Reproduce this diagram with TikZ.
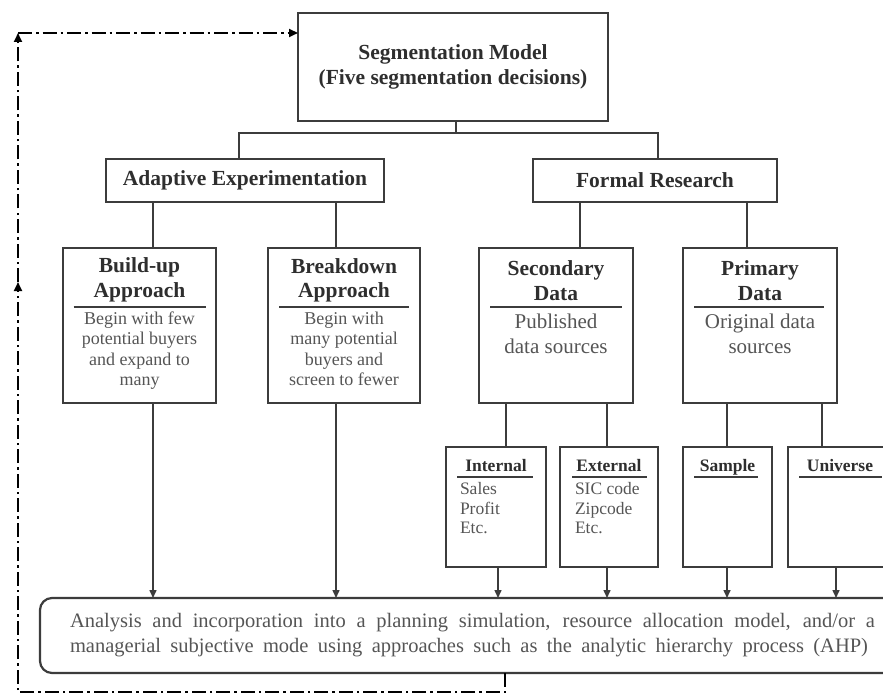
\documentclass[tikz,border=0pt]{standalone}
\usepackage{fontspec}
\setmainfont{Liberation Serif}
\usetikzlibrary{arrows.meta,calc}
\definecolor{ln}{HTML}{3C3C3C}
\definecolor{tt}{HTML}{2E2E2E}
\definecolor{bt}{HTML}{555555}
\begin{document}
\begin{tikzpicture}[x=1pt,y=-1pt,
  box/.style={draw=ln,line width=1.8pt,inner sep=0pt,outer sep=0pt,anchor=north west},
  conn/.style={draw=ln,line width=1.5pt},
  arr/.style={conn,-{Triangle[length=8pt,width=7pt]}},
  sepline/.style={draw=ln,line width=1.5pt},
  fb/.style={draw=black,line width=2.2pt,dash pattern=on 14pt off 4pt on 2.5pt off 4pt},
  fbarr/.style={fb,-{Triangle[length=9pt,width=8pt]}}]
\clip (0,0) rectangle (883,695);
\fill[white] (0,0) rectangle (883,695);

% top level
\node[box] (seg) at (298,13) {\parbox[c][108pt][c]{310pt}{\centering\color{tt}\fontsize{21.5}{25}\selectfont\bfseries Segmentation Model\\(Five segmentation decisions)}};
\node[box] (adapt) at (106,159) {\parbox[c][43pt][c]{278pt}{\centering\color{tt}\fontsize{21.5}{25}\selectfont\bfseries Adaptive Experimentation}};
\node[box] (formal) at (533,159) {\parbox[c][43pt][c]{244pt}{\centering\color{tt}\fontsize{21.5}{25}\selectfont\bfseries Formal Research}};

% second level
\node[box] (build) at (63,248) {\parbox[c][155pt][t]{153pt}{\centering\vspace*{9.5pt}%
{\color{tt}\fontsize{21.5}{25.5}\selectfont\bfseries Build-up\\Approach\par}\vspace{5.5pt}%
{\color{bt}\fontsize{18}{20.6}\selectfont Begin with few\\potential buyers\\and expand to\\many\par}}};
\node[box] (brk) at (268,248) {\parbox[c][155pt][t]{152pt}{\centering\vspace*{10.5pt}%
{\color{tt}\fontsize{21.5}{24.5}\selectfont\bfseries Breakdown\\Approach\par}\vspace{5.5pt}%
{\color{bt}\fontsize{18}{20.6}\selectfont Begin with\\many potential\\buyers and\\screen to fewer\par}}};
\node[box] (sec) at (479,248) {\parbox[c][155pt][t]{154pt}{\centering\vspace*{13pt}%
{\color{tt}\fontsize{21.5}{24.5}\selectfont\bfseries Secondary\\Data\par}\vspace{3pt}%
{\color{bt}\fontsize{21}{25}\selectfont Published\\data sources\par}}};
\node[box] (prim) at (683,248) {\parbox[c][155pt][t]{154pt}{\centering\vspace*{13pt}%
{\color{tt}\fontsize{21.5}{24.5}\selectfont\bfseries Primary\\Data\par}\vspace{3pt}%
{\color{bt}\fontsize{21}{25}\selectfont Original data\\sources\par}}};

\draw[sepline] ($(build.north)+(-66,59)$) -- ++(132,0);
\draw[sepline] ($(brk.north)+(-65,59)$) -- ++(130,0);
\draw[sepline] ($(sec.north)+(-66,59)$) -- ++(132,0);
\draw[sepline] ($(prim.north)+(-66,59)$) -- ++(130,0);

% third level
\node[box] (int) at (446,447) {\parbox[c][120pt][t]{100pt}{\vspace*{12.5pt}%
{\centering\color{tt}\fontsize{17.5}{20}\selectfont\bfseries Internal\par}\vspace{3.5pt}%
{\raggedright\leftskip=14pt\color{bt}\fontsize{17.5}{19.5}\selectfont Sales\\Profit\\Etc.\par}}};
\node[box] (ext) at (560,447) {\parbox[c][120pt][t]{98pt}{\vspace*{12.5pt}%
{\centering\color{tt}\fontsize{17.5}{20}\selectfont\bfseries External\par}\vspace{3.5pt}%
{\raggedright\leftskip=15pt\color{bt}\fontsize{17.5}{19.5}\selectfont SIC code\\Zipcode\\Etc.\par}}};
\node[box] (samp) at (683,447) {\parbox[c][120pt][t]{89pt}{\vspace*{12.5pt}%
{\centering\color{tt}\fontsize{17.5}{20}\selectfont\bfseries Sample\par}}};
\node[box] (univ) at (788,447) {\parbox[c][120pt][t]{104pt}{\vspace*{12.5pt}%
{\centering\color{tt}\fontsize{17.5}{20}\selectfont\bfseries Universe\par}}};

\draw[sepline] ($(int.north)+(-39,30)$) -- ++(76,0);
\draw[sepline] ($(ext.north)+(-37,30)$) -- ++(75,0);
\draw[sepline] ($(samp.north)+(-33.5,30)$) -- ++(64,0);
\draw[sepline] ($(univ.north)+(-41,30)$) -- ++(83,0);

% bottom box
\node[draw=ln,line width=2.2pt,rounded corners=12pt,inner sep=0pt,outer sep=0pt,anchor=north west] (anal) at (40,598)
  {\parbox[c][75pt][c]{860pt}{\color{bt}\fontsize{20.5}{25}\selectfont
   \noindent\hspace*{30pt}\makebox[805pt][s]{Analysis and incorporation into a planning simulation, resource allocation model, and/or a}\par
   \noindent\hspace*{30pt}\makebox[798pt][s]{managerial subjective mode using approaches such as the analytic hierarchy process (AHP)}}};

% tree connectors
\coordinate (bus) at (456,133);
\draw[conn] (seg.south -| bus) -- (bus);
\draw[conn] ([xshift=-6pt]adapt.north) |- (bus) -| ([xshift=3pt]formal.north);
\draw[conn] ([xshift=13.5pt]build.north) -- ([xshift=13.5pt]build.north |- adapt.south);
\draw[conn] ([xshift=-8pt]brk.north) -- ([xshift=-8pt]brk.north |- adapt.south);
\draw[conn] ([xshift=24pt]sec.north) -- ([xshift=24pt]sec.north |- formal.south);
\draw[conn] ([xshift=-13pt]prim.north) -- ([xshift=-13pt]prim.north |- formal.south);
\draw[conn] ([xshift=-50pt]sec.south) -- ([xshift=-50pt]sec.south |- int.north);
\draw[conn] ([xshift=51pt]sec.south) -- ([xshift=51pt]sec.south |- ext.north);
\draw[conn] ([xshift=-33pt]prim.south) -- ([xshift=-33pt]prim.south |- samp.north);
\draw[conn] ([xshift=62pt]prim.south) -- ([xshift=62pt]prim.south |- univ.north);

% arrows into bottom box
\draw[arr] ([xshift=13.5pt]build.south) -- ([xshift=13.5pt]build.south |- anal.north);
\draw[arr] ([xshift=-8pt]brk.south) -- ([xshift=-8pt]brk.south |- anal.north);
\draw[arr] ([xshift=2pt]int.south) -- ([xshift=2pt]int.south |- anal.north);
\draw[arr] ([xshift=-2pt]ext.south) -- ([xshift=-2pt]ext.south |- anal.north);
\draw[arr] ([xshift=-0.5pt]samp.south) -- ([xshift=-0.5pt]samp.south |- anal.north);
\draw[arr] ([xshift=-4pt]univ.south) -- ([xshift=-4pt]univ.south |- anal.north);

% feedback loop
\coordinate (fbl) at (18,692);
\coordinate (fbm) at (18,282);
\coordinate (fbt) at (18,33);
\draw[fbarr] ([xshift=35pt]anal.south) |- (fbl) -- (fbm);
\draw[fbarr] (fbm) -- (fbt);
\draw[fbarr] (fbt) -- (seg.west |- fbt);
\end{tikzpicture}
\end{document}
